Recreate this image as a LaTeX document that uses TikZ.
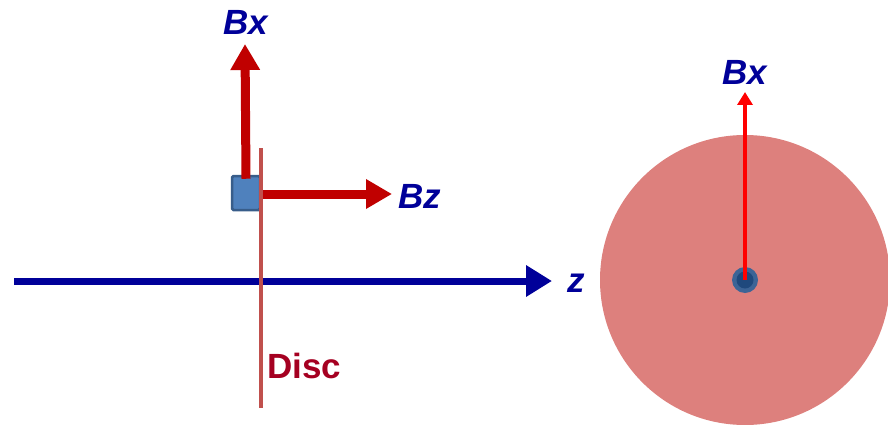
\documentclass[tikz,border=0pt]{standalone}
\usepackage{fontspec}
\setmainfont{Liberation Sans}
\usetikzlibrary{arrows.meta}
\definecolor{axisblue}{RGB}{0,0,153}
\definecolor{vecred}{RGB}{192,0,0}
\definecolor{discline}{RGB}{192,80,77}
\definecolor{disctext}{RGB}{165,0,33}
\definecolor{discfill}{RGB}{221,128,125}
\definecolor{sqfill}{RGB}{79,129,189}
\definecolor{sqdraw}{RGB}{56,93,138}
\definecolor{dotouter}{RGB}{60,100,150}
\definecolor{dotinner}{RGB}{31,73,125}
\tikzset{
  x=1pt, y=-1pt,
  lbl/.style={text=axisblue, font=\fontsize{35}{40}\selectfont\bfseries\itshape, inner sep=0pt},
  bigvec/.style={draw=vecred, line width=9pt, -{Triangle[length=26pt,width=28pt]}},
}
\begin{document}
\begin{tikzpicture}
\useasboundingbox (0,0) rectangle (888,425);
% right disc
\begin{scope}
\clip (0,0) rectangle (888,425);
\fill[discfill] (745,280) circle (145);
\end{scope}
\node[circle, fill=dotouter, minimum size=26pt, inner sep=0pt] (dot) at (745,280) {};
\fill[dotinner] (dot.center) circle (8.5);
\coordinate (rtip) at (745,92);
\draw[draw=red, line width=4pt, -{Triangle[length=13pt,width=15pt]}] (dot.center) -- (rtip);
\node[lbl] (bxr) at (745,72) {Bx};
% z axis
\coordinate (zs) at (14,281);
\coordinate (ze) at (552,281);
\draw[draw=axisblue, line width=7pt, -{Triangle[length=26pt,width=30pt]}] (zs) -- (ze);
\node[lbl] (zl) at (576,283) {z};
% square
\node[draw=sqdraw, fill=sqfill, line width=2.5pt, rounded corners=1.5pt, minimum width=28pt, minimum height=34pt, inner sep=0pt] (sq) at (246,193) {};
% disc line
\coordinate (dtop) at (261,148);
\coordinate (dbot) at (261,408);
\draw[draw=discline, line width=4pt] (dtop) -- (dbot);
\node[text=disctext, font=\fontsize{35}{40}\selectfont\bfseries, anchor=west, inner sep=0pt] (disc) at (267,366) {Disc};
% vectors
\coordinate (bxtip) at (245,44);
\draw[bigvec] ([yshift=-4pt]sq.north) -- (bxtip);
\node[lbl] (bxl) at (246,22) {Bx};
\coordinate (bztip) at (392,194);
\draw[bigvec] ([xshift=2pt]sq.east |- 0,194) -- (bztip);
\node[lbl] (bzl) at (420,196) {Bz};
\end{tikzpicture}
\end{document}
